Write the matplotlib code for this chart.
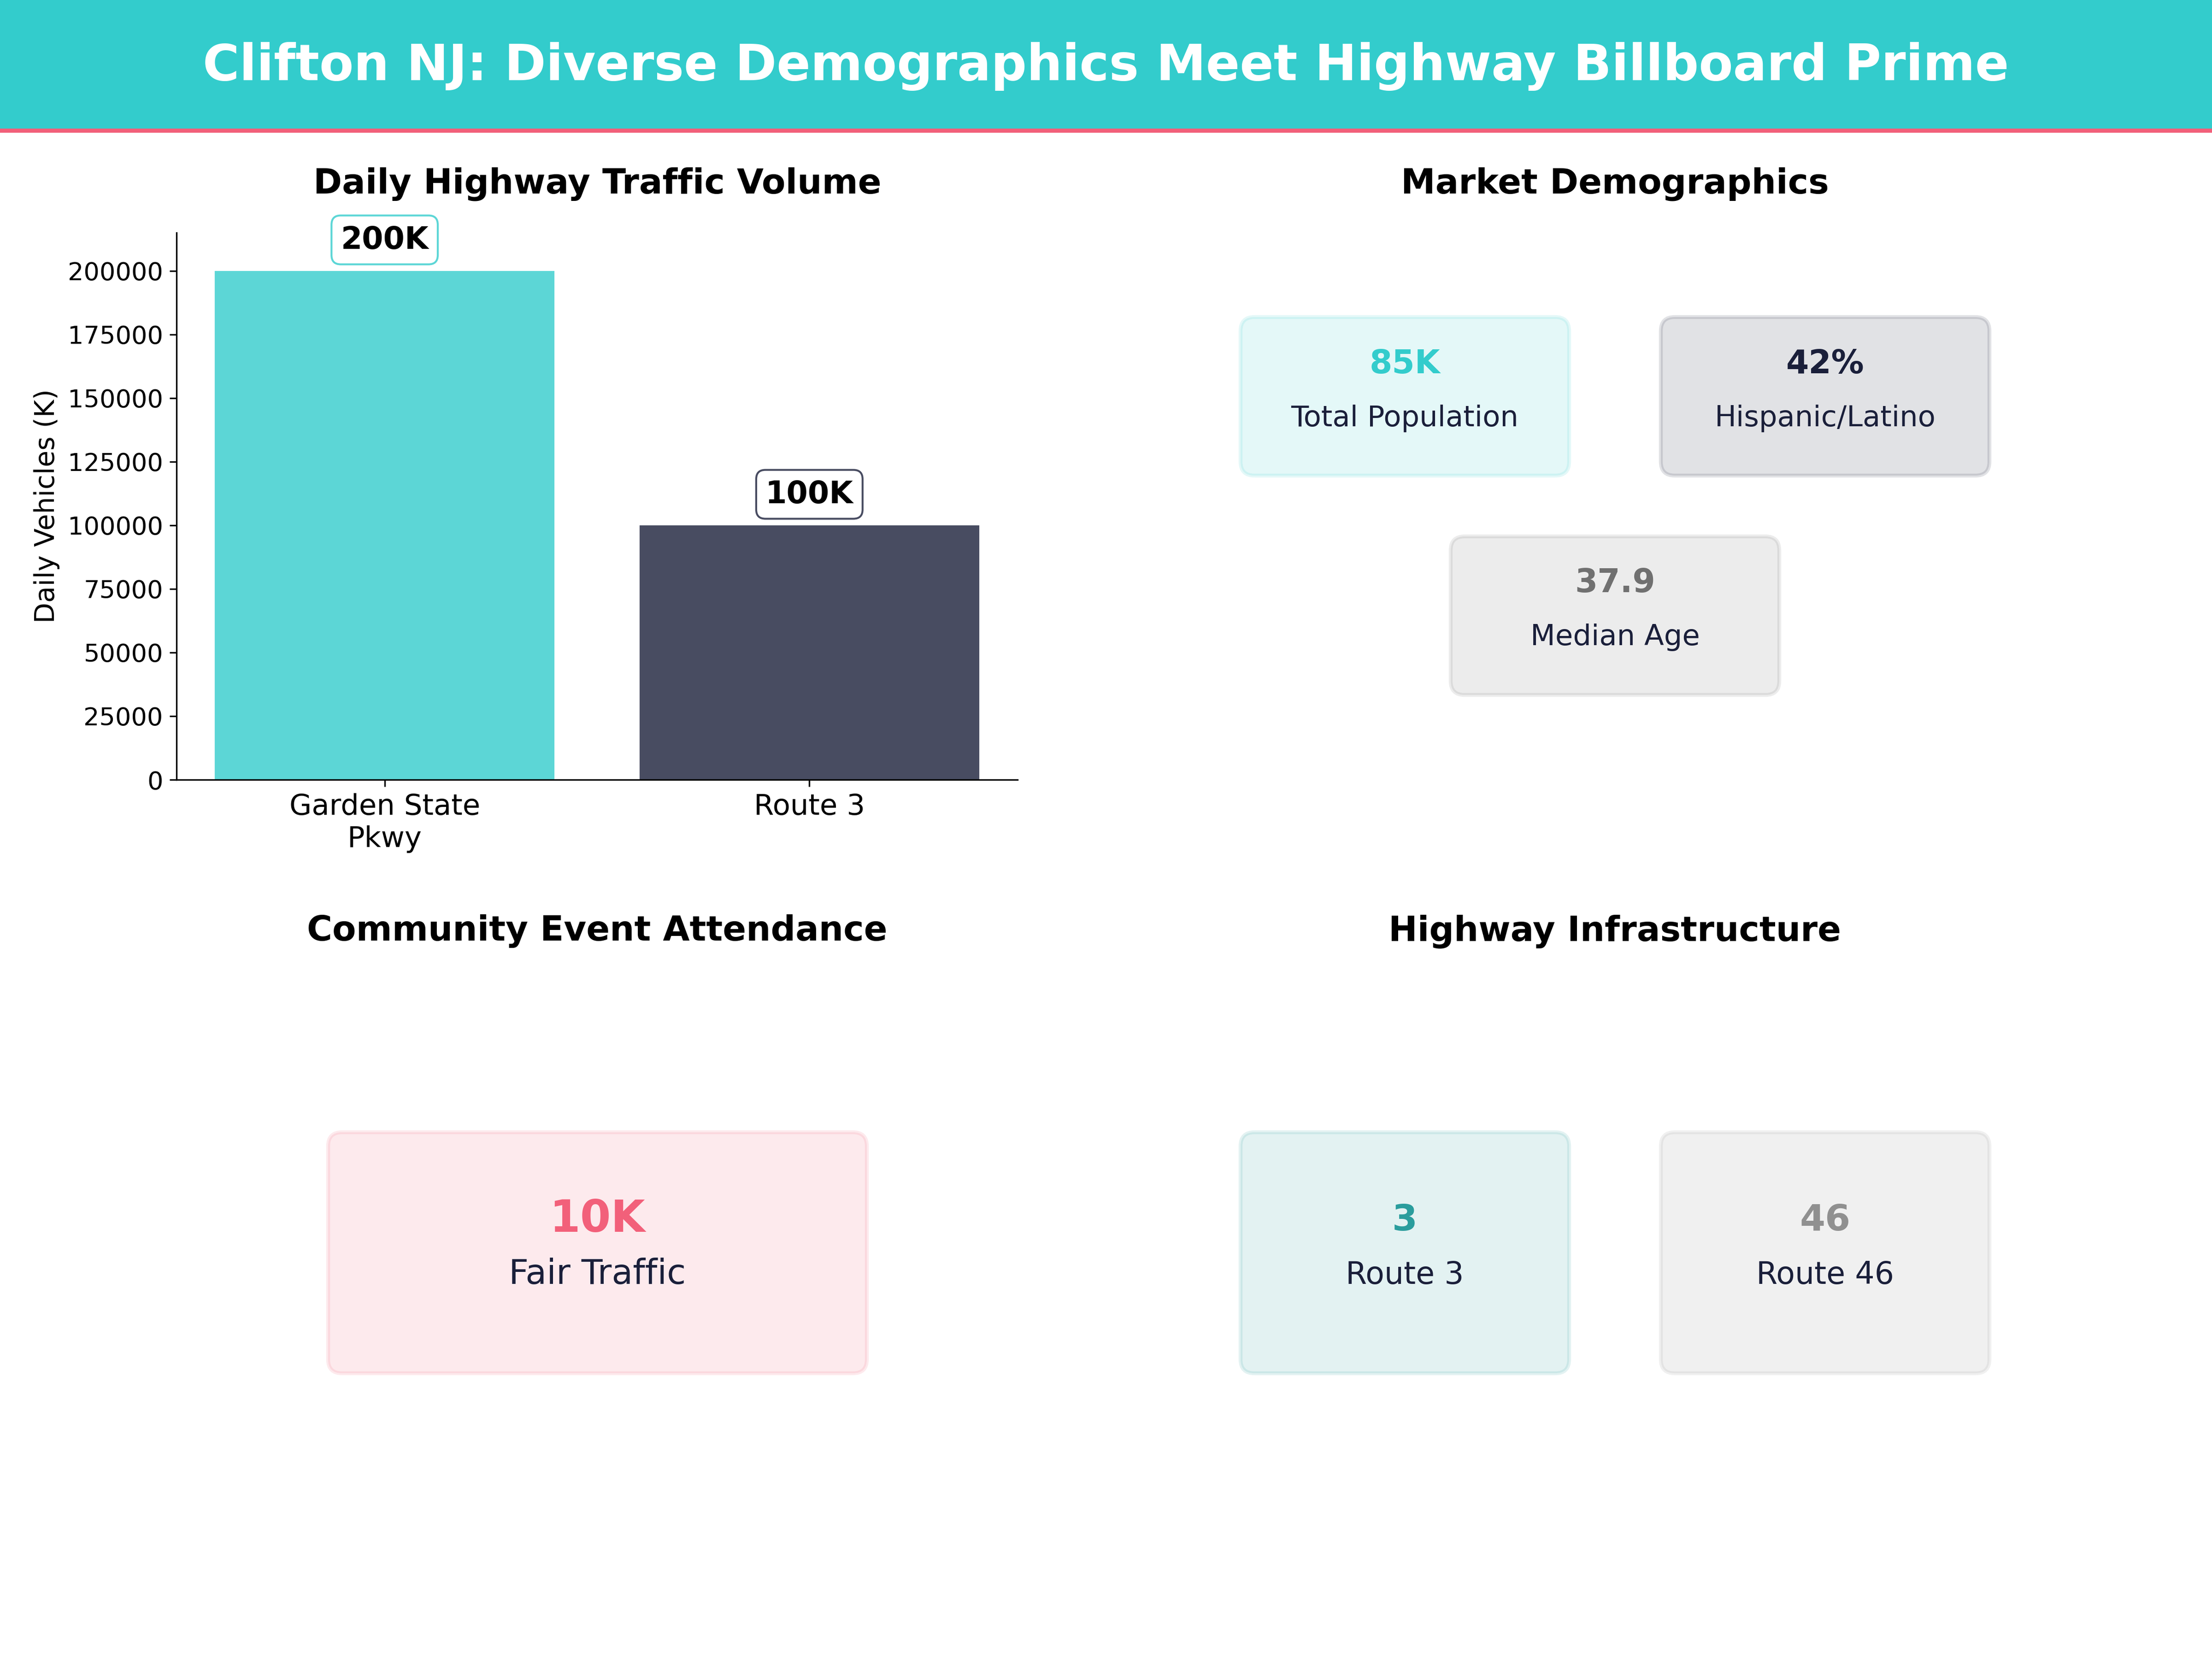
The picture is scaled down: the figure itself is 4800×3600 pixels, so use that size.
import matplotlib
matplotlib.use('Agg')
import matplotlib.pyplot as plt
from matplotlib.patches import FancyBboxPatch, Rectangle

TEAL = '#33CCCC'
NAVY = '#1A1F3A'
PINK = '#F2607A'

# traffic chart
roads = ['Garden State\nPkwy', 'Route 3']
vehicles = [200000, 100000]
vehicle_labels = ['200K', '100K']
bar_colors = [TEAL, NAVY]

# cards
demo_values = ['85K', '42%', '37.9']
demo_labels = ['Total Population', 'Hispanic/Latino', 'Median Age']
demo_colors = [TEAL, NAVY, '#707070']
event_value = '10K'
event_label = 'Fair Traffic'
route_values = ['3', '46']
route_labels = ['Route 3', 'Route 46']
route_colors = ['#2A9D9D', '#909090']

fig = plt.figure(figsize=(16, 12), dpi=300)

# overlay in pixel coordinates for the header and the cards
bg = fig.add_axes([0, 0, 1, 1])
bg.set_xlim(0, 4800)
bg.set_ylim(3600, 0)
bg.axis('off')

bg.add_patch(Rectangle((0, 0), 4800, 279, facecolor=TEAL, edgecolor='none'))
bg.add_patch(Rectangle((0, 279), 4800, 9, facecolor=PINK, edgecolor='none'))
bg.text(2400, 174, 'Clifton NJ: Diverse Demographics Meet Highway Billboard Prime',
        color='white', fontsize=26, fontweight='bold', ha='center', va='baseline')


def card(x0, y0, x1, y1, color, value, label, value_y, label_y, value_size, label_size):
    bg.add_patch(FancyBboxPatch((x0 + 25, y0 + 25), x1 - x0 - 50, y1 - y0 - 50,
                                boxstyle='round,pad=25,rounding_size=30',
                                facecolor=color, edgecolor=color, linewidth=2, alpha=0.13))
    xc = (x0 + x1) / 2
    bg.text(xc, value_y, value, color=color, fontsize=value_size, fontweight='bold',
            ha='center', va='baseline')
    bg.text(xc, label_y, label, color=NAVY, fontsize=label_size, ha='center', va='baseline')


for title, xc in [('Daily Highway Traffic Volume', 1296), ('Market Demographics', 3504)]:
    bg.text(xc, 419, title, fontsize=18, fontweight='bold', ha='center', va='baseline')
for title, xc in [('Community Event Attendance', 1296), ('Highway Infrastructure', 3504)]:
    bg.text(xc, 2041, title, fontsize=18, fontweight='bold', ha='center', va='baseline')

card(2692, 688, 3405, 1032, demo_colors[0], demo_values[0], demo_labels[0], 810, 925, 17, 15)
card(3604, 688, 4317, 1032, demo_colors[1], demo_values[1], demo_labels[1], 810, 925, 17, 15)
card(3148, 1164, 3861, 1508, demo_colors[2], demo_values[2], demo_labels[2], 1285, 1400, 17, 15)
card(712, 2457, 1881, 2980, PINK, event_value, event_label, 2673, 2786, 23, 18)
card(2692, 2457, 3405, 2980, route_colors[0], route_values[0], route_labels[0], 2670, 2786, 19, 16)
card(3604, 2457, 4317, 2980, route_colors[1], route_values[1], route_labels[1], 2670, 2786, 19, 16)

# traffic bars
ax = fig.add_axes([383 / 4800, 1 - 1692 / 3600, (2208 - 383) / 4800, (1692 - 505) / 3600])
ax.patch.set_alpha(0)
bars = ax.bar(roads, vehicles, color=bar_colors, alpha=0.8)
ax.set_ylim(0, 215000)
ax.set_ylabel('Daily Vehicles (K)', fontsize=14)
ax.tick_params(axis='x', labelsize=15)
ax.tick_params(axis='y', labelsize=13)
ax.spines['top'].set_visible(False)
ax.spines['right'].set_visible(False)

for bar, lab, c in zip(bars, vehicle_labels, bar_colors):
    ax.text(bar.get_x() + bar.get_width() / 2, bar.get_height() + 6200, lab,
            ha='center', va='bottom', fontsize=16, fontweight='bold',
            bbox=dict(boxstyle='round,pad=0.3', facecolor='white', edgecolor=c, alpha=0.8))

fig.savefig('out.png', dpi=300)
